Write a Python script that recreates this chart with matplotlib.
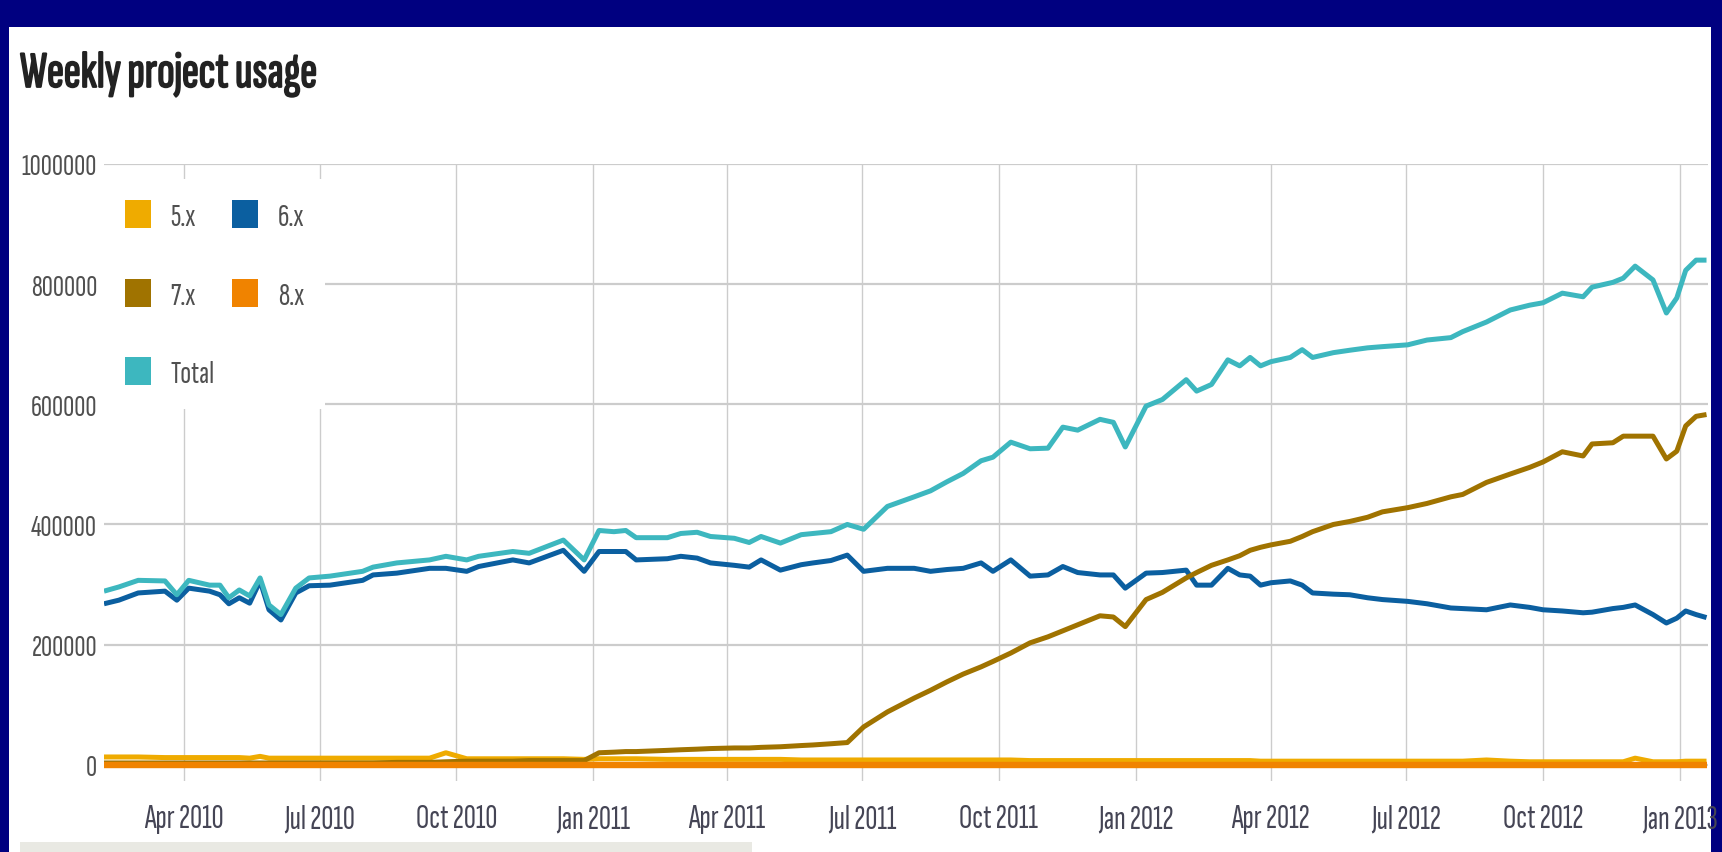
import matplotlib
matplotlib.use("Agg")
import matplotlib.pyplot as plt
import matplotlib.dates as mdates
import matplotlib.patheffects as pe
from matplotlib.patches import Patch, Rectangle
from matplotlib import font_manager
import numpy as np
import pandas as pd

# weekly usage (thousands of sites)
dates = [
    "2010-02-06", "2010-02-16", "2010-03-01", "2010-03-19", "2010-03-27", "2010-04-04",
    "2010-04-18", "2010-04-25", "2010-05-01", "2010-05-08", "2010-05-15", "2010-05-22",
    "2010-05-28", "2010-06-05", "2010-06-15", "2010-06-24", "2010-07-08", "2010-07-30",
    "2010-08-06", "2010-08-22", "2010-09-13", "2010-09-24", "2010-10-08", "2010-10-16",
    "2010-11-08", "2010-11-19", "2010-12-12", "2010-12-26", "2011-01-05", "2011-01-15",
    "2011-01-23", "2011-01-30", "2011-02-20", "2011-03-01", "2011-03-12", "2011-03-21",
    "2011-04-06", "2011-04-16", "2011-04-24", "2011-05-07", "2011-05-21", "2011-05-29",
    "2011-06-10", "2011-06-21", "2011-07-02", "2011-07-18", "2011-08-05", "2011-08-16",
    "2011-08-27", "2011-09-07", "2011-09-19", "2011-09-27", "2011-10-09", "2011-10-22",
    "2011-11-03", "2011-11-13", "2011-11-23", "2011-12-08", "2011-12-17", "2011-12-25",
    "2012-01-08", "2012-01-19", "2012-02-04", "2012-02-11", "2012-02-21", "2012-03-03",
    "2012-03-11", "2012-03-18", "2012-03-25", "2012-04-01", "2012-04-14", "2012-04-22",
    "2012-04-29", "2012-05-13", "2012-05-24", "2012-06-05", "2012-06-15", "2012-07-02",
    "2012-07-15", "2012-07-31", "2012-08-08", "2012-08-24", "2012-09-09", "2012-09-22",
    "2012-10-01", "2012-10-14", "2012-10-28", "2012-11-03", "2012-11-17", "2012-11-24",
    "2012-12-02", "2012-12-14", "2012-12-23", "2012-12-30", "2013-01-05", "2013-01-12",
    "2013-01-19",
]

total_k = [
    289, 296, 307, 306, 283, 307, 299, 299, 278, 291, 281, 311,
    266, 250, 294, 311, 314, 322, 329, 336, 341, 347, 341, 347,
    355, 352, 374, 341, 390, 388, 390, 378, 378, 385, 387, 380,
    377, 370, 380, 369, 383, 385, 388, 400, 392, 430, 446, 456,
    471, 485, 506, 512, 537, 526, 527, 562, 557, 575, 570, 529,
    597, 608, 641, 622, 633, 674, 664, 678, 664, 671, 678, 691,
    678, 686, 690, 694, 696, 699, 707, 711, 721, 737, 757, 765,
    769, 785, 779, 795, 803, 810, 830, 807, 752, 777, 823, 840,
    840,
]

v6_k = [
    268, 274, 286, 289, 274, 294, 289, 283, 268, 278, 269, 306,
    258, 241, 286, 298, 299, 307, 316, 319, 327, 327, 322, 330,
    341, 336, 357, 322, 355, 355, 355, 341, 343, 347, 344, 336,
    332, 329, 341, 324, 333, 336, 340, 349, 322, 327, 327, 322,
    325, 327, 336, 322, 341, 314, 316, 330, 320, 316, 316, 294,
    319, 320, 324, 299, 299, 327, 316, 314, 299, 303, 306, 299,
    286, 284, 283, 278, 275, 272, 268, 261, 260, 258, 266, 262,
    258, 256, 253, 254, 260, 262, 266, 250, 236, 244, 256, 250,
    245,
]

v7_k = [
    3, 3, 3, 3, 3, 3, 3, 3, 3, 3, 3, 3,
    3, 3, 3, 3, 3, 3, 3, 4, 4, 5, 6, 6,
    6, 7, 7, 7, 20, 21, 22, 22, 24, 25, 26, 27,
    28, 28, 29, 30, 32, 33, 35, 37, 63, 88, 111, 124,
    138, 151, 163, 172, 186, 203, 213, 223, 233, 248, 246, 230,
    275, 287, 311, 320, 332, 341, 348, 357, 362, 366, 372, 380,
    388, 400, 405, 412, 421, 428, 435, 446, 450, 470, 484, 495,
    504, 521, 514, 534, 536, 547, 547, 547, 509, 522, 564, 580,
    583,
]

v5_k = [
    13, 13, 13, 12, 12, 12, 12, 12, 12, 12, 11, 14,
    11, 11, 11, 11, 11, 11, 11, 11, 11, 20, 10, 10,
    10, 10, 10, 9, 10, 10, 10, 10, 9, 9, 9, 9,
    9, 9, 9, 9, 8, 8, 8, 8, 8, 8, 8, 8,
    8, 8, 8, 8, 8, 7, 7, 7, 7, 7, 7, 7,
    7, 7, 7, 7, 7, 7, 7, 7, 6, 6, 6, 6,
    6, 6, 6, 6, 6, 6, 6, 6, 6, 8, 6, 5,
    5, 5, 5, 5, 5, 5, 11, 5, 5, 5, 6, 6,
    6,
]

v8_k = [
    0, 0, 0, 0, 0, 0, 0, 0, 0, 0, 0, 0,
    0, 0, 0, 0, 0, 0, 0, 0, 0, 0, 0, 0,
    0, 0, 0, 0, 0, 0, 0, 0, 0, 0, 0, 0,
    0, 0, 0, 0, 0, 0, 0, 0, 0, 0, 0, 0,
    0, 0, 0, 0, 0, 0, 0, 0, 0, 0, 0, 0,
    0, 0, 0, 0, 0, 0, 0, 0, 0, 0, 0, 0,
    0, 0, 0, 0, 0, 0, 0, 0, 0, 0, 0, 0,
    0, 0, 0, 0, 0, 0, 0, 0, 0, 0, 0, 0,
    0,
]

y_ticks = [0, 200000, 400000, 600000, 800000, 1000000]
x_tick_dates = ["2010-04-01", "2010-07-01", "2010-10-01", "2011-01-01", "2011-04-01",
                "2011-07-01", "2011-10-01", "2012-01-01", "2012-04-01", "2012-07-01",
                "2012-10-01", "2013-01-01"]
x_tick_labels = ["Apr 2010", "Jul 2010", "Oct 2010", "Jan 2011", "Apr 2011", "Jul 2011",
                 "Oct 2011", "Jan 2012", "Apr 2012", "Jul 2012", "Oct 2012", "Jan 2013"]

# narrow font if we have one
names = {f.name for f in font_manager.fontManager.ttflist}
base_font = "DejaVu Sans"
for cand in ["Sofia Sans Extra Condensed", "Roboto Condensed", "Liberation Sans Narrow"]:
    if cand in names:
        base_font = cand
        break
plt.rcParams["font.family"] = [base_font, "DejaVu Sans"]

W, H = 1722, 853
fig = plt.figure(figsize=(W / 100, H / 100), dpi=100, facecolor="#000080")
# white page inside the navy frame
fig.patches.append(Rectangle((9 / W, 0), (1711 - 9) / W, 1 - 28 / H,
                             transform=fig.transFigure, facecolor="white",
                             edgecolor="none", zorder=-5))
fig.patches.append(Rectangle((20 / W, 0), (752 - 20) / W, 10 / H,
                             transform=fig.transFigure, facecolor="#e9e9e3",
                             edgecolor="none", zorder=-4))

ax = fig.add_axes([104 / W, 1 - 782 / H, (1708 - 104) / W, (782 - 165) / H])
ax.set_zorder(2)
ax.set_facecolor("none")

x = pd.to_datetime(dates)
series = [
    ("5.x", v5_k, "#efab00", 3.6),
    ("6.x", v6_k, "#0b5fa0", 3.6),
    ("7.x", v7_k, "#a07300", 3.6),
    ("8.x", v8_k, "#f08300", 4.6),
    ("Total", total_k, "#3db7bf", 3.6),
]
for name, vals, col, lw in series:
    ax.plot(x, np.array(vals) * 1000, color=col, lw=lw, solid_joinstyle="round",
            solid_capstyle="butt", zorder=3)

ax.set_xlim(pd.Timestamp("2010-02-06"), pd.Timestamp("2013-01-20"))
ax.set_ylim(-27000, 1000000)

ax.set_yticks(y_ticks)
ax.set_yticklabels([str(v) for v in y_ticks])
ax.set_xticks(mdates.date2num(pd.to_datetime(x_tick_dates)))
ax.set_xticklabels(x_tick_labels)
ax.tick_params(axis="y", length=0, pad=5, labelsize=22, labelcolor="#505050")
ax.tick_params(axis="x", length=0, pad=16, labelsize=24, labelcolor="#454555")

ax.set_axisbelow(True)
ax.grid(axis="y", color="#cccccc", lw=1.6)
ax.grid(axis="x", color="#cccccc", lw=1.0)
for s in ax.spines.values():
    s.set_visible(False)

# legend: 5.x 6.x / 7.x 8.x / Total
order = [0, 2, 4, 1, 3]
handles = [Patch(facecolor=series[i][2], edgecolor="none") for i in order]
labels = [series[i][0] for i in order]
leg = ax.legend(handles, labels, ncol=2, loc="upper left",
                bbox_to_anchor=(104 / W, 1 - 180 / H), bbox_transform=fig.transFigure,
                frameon=True, fancybox=False, borderaxespad=0, borderpad=0.65,
                handlelength=0.81, handleheight=0.97, handletextpad=0.62,
                columnspacing=0.55, labelspacing=1.5, fontsize=23)
leg.get_frame().set_facecolor("white")
leg.get_frame().set_edgecolor("none")
leg.get_frame().set_alpha(1)
for t in leg.get_texts():
    t.set_color("#505050")

fig.text(20 / W, 1 - 88 / H, "Weekly project usage", fontsize=37,
         color="#222222", ha="left", va="baseline",
         path_effects=[pe.withStroke(linewidth=1.3, foreground="#222222")])

fig.savefig("out.png", dpi=100, facecolor=fig.get_facecolor())
